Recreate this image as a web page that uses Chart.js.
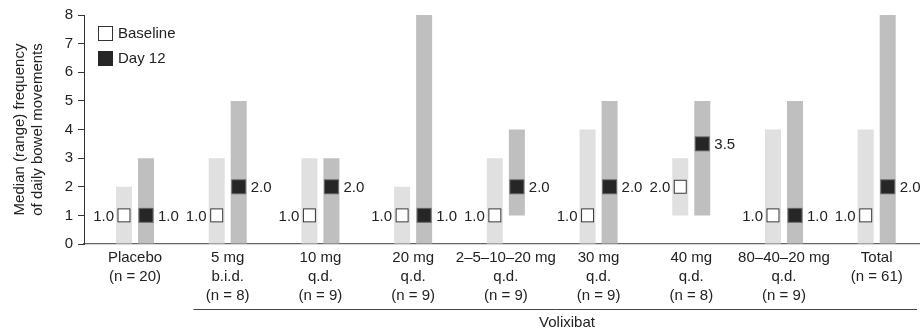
<!DOCTYPE html>
<html>
<head>
<meta charset="utf-8">
<script src="https://cdn.jsdelivr.net/npm/chart.js@4/dist/chart.umd.min.js"></script>
<style>
  html, body { margin: 0; padding: 0; background: #fff; }
  #wrap { width: 920px; height: 332px; position: relative; }
</style>
</head>
<body>
<div id="wrap"><canvas id="chart"></canvas></div>
<script>
// =======================
// Data
// =======================

const groups = [
  ["Placebo", "(n = 20)"],
  ["5 mg", "b.i.d.", "(n = 8)"],
  ["10 mg", "q.d.", "(n = 9)"],
  ["20 mg", "q.d.", "(n = 9)"],
  ["2–5–10–20 mg", "q.d.", "(n = 9)"],
  ["30 mg", "q.d.", "(n = 9)"],
  ["40 mg", "q.d.", "(n = 8)"],
  ["80–40–20 mg", "q.d.", "(n = 9)"],
  ["Total", "(n = 61)"]
];

const baselineMin = [0, 0, 0, 0, 0, 0, 1, 0, 0];
const baselineMax = [2, 3, 3, 2, 3, 4, 3, 4, 4];
const baselineMedian = [1.0, 1.0, 1.0, 1.0, 1.0, 1.0, 2.0, 1.0, 1.0];

const day12Min = [0, 0, 0, 0, 1, 0, 1, 0, 0];
const day12Max = [3, 5, 3, 8, 4, 5, 5, 5, 8];
const day12Median = [1.0, 2.0, 2.0, 1.0, 2.0, 2.0, 3.5, 1.0, 2.0];

const yTicks = [0, 1, 2, 3, 4, 5, 6, 7, 8];
const drugLabel = "Volixibat";

const FONT = "'Liberation Sans', Arial, Helvetica, sans-serif";
const TEXT = "#222";


// =======================
// Helpers
// =======================

function rangeData(lo, hi) {
  return lo.map((v, i) => ({ x: i, y: [v, hi[i]] }));
}


// =======================
// Medians, legend, group bracket
// =======================

const extrasPlugin = {
  id: "extras",
  afterDatasetsDraw(chart) {
    const ctx = chart.ctx;
    const y = chart.scales.y;
    const x = chart.scales.x;
    const area = chart.chartArea;
    const baseBars = chart.getDatasetMeta(0).data;
    const dayBars = chart.getDatasetMeta(1).data;

    ctx.save();
    ctx.font = "15px " + FONT;
    ctx.textBaseline = "middle";
    ctx.fillStyle = TEXT;

    // baseline medians: open squares, label on the left
    baselineMedian.forEach((m, i) => {
      const cx = baseBars[i].x;
      const cy = y.getPixelForValue(m);
      ctx.fillStyle = "#fff";
      ctx.fillRect(cx - 6.5, cy - 7, 13, 14);
      ctx.strokeStyle = "#333";
      ctx.lineWidth = 1;
      ctx.strokeRect(cx - 6, cy - 6.5, 12, 13);
      ctx.fillStyle = TEXT;
      ctx.textAlign = "right";
      ctx.fillText(m.toFixed(1), cx - 10, cy + 1);
    });

    // day 12 medians: filled squares, label on the right
    day12Median.forEach((m, i) => {
      const cx = dayBars[i].x;
      const cy = y.getPixelForValue(m);
      ctx.fillStyle = "#6a6a6a";
      ctx.fillRect(cx - 7.5, cy - 7.5, 15, 15);
      ctx.fillStyle = "#262626";
      ctx.fillRect(cx - 6.5, cy - 6.5, 13, 13);
      ctx.fillStyle = TEXT;
      ctx.textAlign = "left";
      ctx.fillText(m.toFixed(1), cx + 12, cy + 1);
    });

    // legend
    const lx = area.left + 14;
    const ly = area.top + 11;
    ctx.fillStyle = "#fff";
    ctx.fillRect(lx, ly, 15, 15);
    ctx.strokeStyle = "#333";
    ctx.strokeRect(lx + 0.5, ly + 0.5, 14, 14);
    ctx.fillStyle = "#262626";
    ctx.fillRect(lx, ly + 25, 15, 15);
    ctx.fillStyle = TEXT;
    ctx.textAlign = "left";
    ctx.fillText("Baseline", lx + 20, ly + 8);
    ctx.fillText("Day 12", lx + 20, ly + 33);

    // bracket under the volixibat groups
    const x0 = x.getPixelForValue(0.63);
    const x1 = area.right - 3;
    ctx.strokeStyle = "#444";
    ctx.beginPath();
    ctx.moveTo(x0, 309.5);
    ctx.lineTo(x1, 309.5);
    ctx.stroke();
    ctx.textAlign = "center";
    ctx.fillText(drugLabel, x.getPixelForValue(4.66), 323);

    ctx.restore();
  }
};


// =======================
// Chart
// =======================

new Chart(document.getElementById("chart").getContext("2d"), {
  type: "bar",
  data: {
    datasets: [
      {
        label: "Baseline",
        data: rangeData(baselineMin, baselineMax),
        backgroundColor: "#e0e0e0",
        borderWidth: 0,
        categoryPercentage: 0.475,
        barPercentage: 0.727
      },
      {
        label: "Day 12",
        data: rangeData(day12Min, day12Max),
        backgroundColor: "#bfbfbf",
        borderWidth: 0,
        categoryPercentage: 0.475,
        barPercentage: 0.727
      }
    ]
  },
  options: {
    responsive: true,
    maintainAspectRatio: false,
    animation: false,
    layout: { padding: { top: 15, left: 0, right: 0, bottom: 0 } },
    plugins: {
      legend: { display: false },
      tooltip: { enabled: false }
    },
    scales: {
      x: {
        type: "linear",
        min: -0.55,
        max: 8.467,
        offset: false,
        grid: { display: false, drawTicks: false },
        border: { display: true, color: "#666", width: 1.2 },
        afterBuildTicks: axis => { axis.ticks = groups.map((_, i) => ({ value: i })); },
        afterFit: axis => { axis.height = 88; },
        ticks: {
          autoSkip: false,
          maxRotation: 0,
          minRotation: 0,
          padding: 4.5,
          color: TEXT,
          font: { family: FONT, size: 15, lineHeight: 1.27 },
          callback: v => groups[v] || ""
        }
      },
      y: {
        min: 0,
        max: 8,
        afterBuildTicks: axis => { axis.ticks = yTicks.map(v => ({ value: v })); },
        afterFit: axis => { axis.width = 84; },
        grid: {
          display: true,
          drawOnChartArea: false,
          drawTicks: true,
          tickLength: 6,
          color: "#333"
        },
        border: { display: true, color: "#333", width: 1 },
        ticks: {
          padding: 5,
          color: TEXT,
          font: { family: FONT, size: 15 }
        },
        title: {
          display: true,
          text: ["Median (range) frequency", "of daily bowel movements"],
          color: TEXT,
          padding: { top: 11, bottom: 0 },
          font: { family: FONT, size: 15, lineHeight: 1.2 }
        }
      }
    }
  },
  plugins: [extrasPlugin]
});
</script>
</body>
</html>
